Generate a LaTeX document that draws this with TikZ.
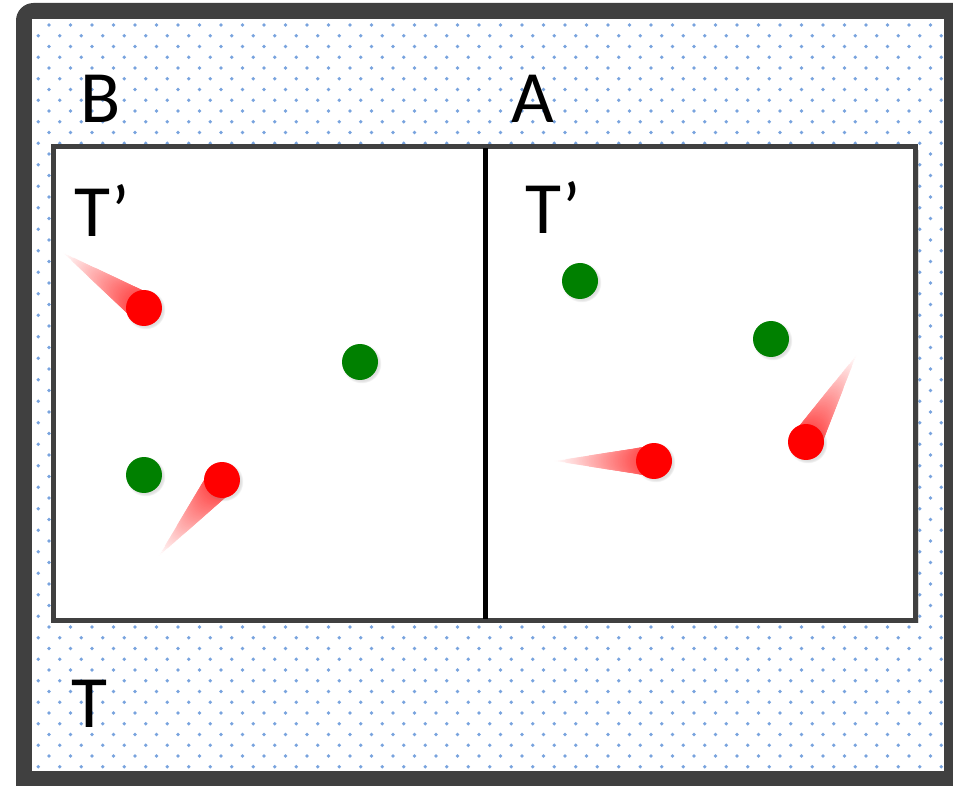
\documentclass[tikz,border=0pt]{standalone}
\usepackage{fontspec}
\setmainfont{Carlito}
\usetikzlibrary{calc,shadows}
\definecolor{framegray}{RGB}{64,64,64}
\definecolor{dotblue}{RGB}{120,163,222}
\definecolor{ballgreen}{RGB}{0,128,0}

\begin{document}
\begin{tikzpicture}[x=0.02cm,y=-0.02cm,
    lbl/.style={anchor=base west,inner sep=0pt,font=\fontsize{42}{50}\selectfont},
    ball/.style={circle,inner sep=0pt,minimum size=0.72cm,
      circular drop shadow={shadow xshift=0.03cm,shadow yshift=-0.03cm,shadow scale=1.1,opacity=0.25}},
    greenball/.style={ball,fill=ballgreen},
    redball/.style={ball,fill=red}]
	\useasboundingbox (0,0) rectangle (953,786);
	\begin{scope}
		\clip (0,0) rectangle (953,786);
		\fill[framegray,rounded corners=10] (16,3) rectangle (990,820);
	\end{scope}
	\fill[white] (32,19) rectangle (944,771);
	% dotted background
	\begin{scope}
		\clip (32,19) rectangle (944,771);
		\foreach \i in {0,...,42}
			\foreach \j in {0,...,34} {
				\fill[dotblue] (49+21.5*\i,25+21.5*\j) circle (1.8);
				\fill[dotblue] (38.25+21.5*\i,35.75+21.5*\j) circle (1.8);
			}
	\end{scope}
	% container with wall
	\draw[framegray,line width=0.1cm,fill=white,
	  drop shadow={shadow xshift=0.06cm,shadow yshift=-0.06cm,opacity=0.3}]
	  (53,147) rectangle (915.5,620.5);
	\coordinate (wtop) at (485,148);
	\coordinate (wbot) at (485,619);
	\draw[black,line width=0.1cm] (wtop) -- (wbot);
	% labels
	\node[lbl] (lB) at (80,123) {B};
	\node[lbl] (lA) at (511,123) {A};
	\node[lbl] (lTB) at (74,237) {T’};
	\node[lbl] (lTA) at (525,234) {T’};
	\node[lbl] (lT) at (71,727) {T};
	% particles
	\node[greenball] (g1) at (144,475) {};
	\node[greenball] (g2) at (360,362) {};
	\node[greenball] (g3) at (580,281) {};
	\node[greenball] (g4) at (771,339) {};
	\coordinate (r1) at (144,308);
	\coordinate (r2) at (222,480);
	\coordinate (r3) at (654,461);
	\coordinate (r4) at (806,442);
	\coordinate (t1) at (62,252);
	\coordinate (t2) at (158,557);
	\coordinate (t3) at (553,461);
	\coordinate (t4) at (857,354);
	% motion trails
	\foreach \tip/\ctr in {t1/r1,t2/r2,t3/r3,t4/r4}
		\foreach \k in {0,...,50} {
			\pgfmathsetmacro\fr{\k/50}
			\pgfmathsetmacro\pc{\k*1.4}
			\pgfmathsetmacro\rad{\k*0.31}
			\fill[red!\pc!white] ($(\tip)!\fr!(\ctr)$) circle[radius=\rad];
		}
	\node[redball] (b1) at (r1) {};
	\node[redball] (b2) at (r2) {};
	\node[redball] (b3) at (r3) {};
	\node[redball] (b4) at (r4) {};
\end{tikzpicture}
\end{document}
